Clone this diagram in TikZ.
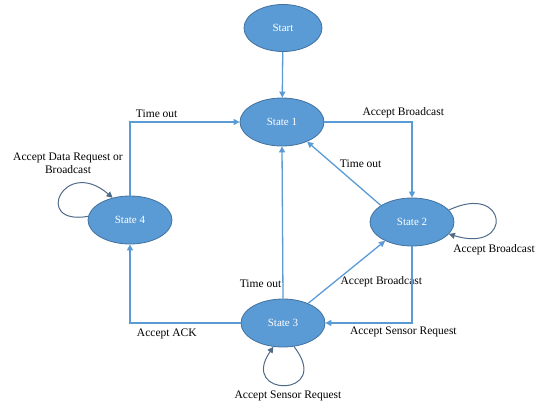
\documentclass[tikz,border=0pt]{standalone}
\usepackage{fontspec}
\setmainfont{Liberation Serif}
\usetikzlibrary{arrows.meta, positioning, shapes.geometric}
\definecolor{stfill}{HTML}{5B9BD5}
\definecolor{stdraw}{HTML}{41719C}
\definecolor{loopcol}{HTML}{4F6B88}

\begin{document}
\begin{tikzpicture}[
    x=1pt, y=-1pt,
    state/.style = {
      ellipse, draw=stdraw, thick,
      fill=stfill,
      minimum width=84pt, minimum height=48pt,
      text=white,
      font=\fontsize{11}{12}\selectfont
    },
    edge/.style      = {-{Triangle[length=6pt,width=6pt]}, stfill, line width=1.3pt},
    selfloop/.style  = {-{Triangle[length=6pt,width=6pt]}, loopcol, line width=1pt},
    smalltext/.style = {font=\fontsize{11.5}{13}\selectfont, align=center, text=black}
  ]

    \useasboundingbox (0,0) rectangle (537,404);

    \node[state, minimum width=78pt, minimum height=47pt] (start) at (283,28) {Start};
    \node[state] (s1) at (282,122) {State 1};
    \node[state] (s2) at (412,222) {State 2};
    \node[state] (s3) at (283,323) {State 3};
    \node[state] (s4) at (130,220) {State 4};

    \draw[edge] (start) -- (s1);

    \draw[edge]
      (s4.north) |-
      node[pos=0.5, anchor=south west, smalltext, xshift=2pt] {Time out}
      (s1.west);

    \draw[edge]
      (s1.east) -|
      node[pos=0.45, above, smalltext] {Accept Broadcast}
      (s2.north);

    \draw[edge]
      (s2.152) --
      node[midway, above right, smalltext, xshift=-8pt, yshift=2pt] {Time out}
      (s1.-38);

    \draw[edge]
      (s3.north) --
      node[pos=0.1, left, smalltext, inner sep=1pt] {Time out}
      (s1.south);

    \draw[edge]
      (s3.38) --
      node[midway, below right, smalltext, xshift=-10pt] {Accept Broadcast}
      (s2.-145);

    \draw[edge]
      (s2.south) |-
      node[pos=0.55, below, smalltext] {Accept Sensor Request}
      (s3.east);

    \draw[edge]
      (s3.west) -|
      node[pos=0.5, anchor=north west, smalltext, xshift=3pt, yshift=-2pt] {Accept ACK}
      (s4.south);

    % self loops
    \draw[selfloop]
      (s4.175) .. controls (32,226) and (64,156) .. (s4.128);
    \node[smalltext] (s4txt) at (68,163) {Accept Data Request or\\Broadcast};

    \draw[selfloop]
      (s2.18) .. controls (508,182) and (514,254) .. (s2.-18);
    \node[smalltext] (s2txt) at (494,250) {Accept Broadcast};

    \draw[selfloop]
      (s3.-65) .. controls (334,398) and (238,398) .. (s3.-112);
    \node[smalltext] (s3txt) at (288,396) {Accept Sensor Request};

  \end{tikzpicture}
\end{document}
